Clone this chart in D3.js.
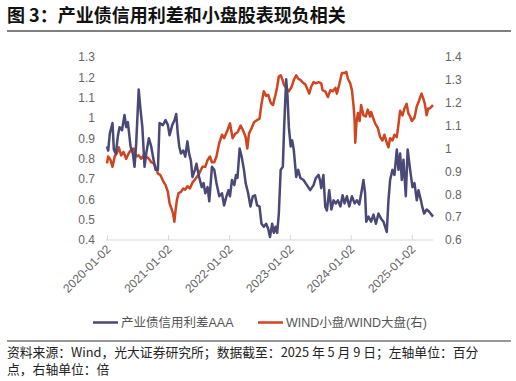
<!DOCTYPE html>
<html><head><meta charset="utf-8">
<script src="https://cdn.jsdelivr.net/npm/d3@7"></script>
<style>body{margin:0;background:#fff}svg{display:block}</style>
</head><body>
<script>
// ---- data ----
const title = "图 3：产业债信用利差和小盘股表现负相关";
const tickDates = ["2020-01-02","2021-01-02","2022-01-02","2023-01-02","2024-01-02","2025-01-02"];
const leftTicks = [0.4,0.5,0.6,0.7,0.8,0.9,1,1.1,1.2,1.3];
const rightTicks = [0.6,0.7,0.8,0.9,1,1.1,1.2,1.3,1.4];
const seriesNames = ["产业债信用利差AAA","WIND小盘/WIND大盘(右)"];
const noteLines = ["资料来源：Wind，光大证券研究所；数据截至：2025 年 5 月 9 日；左轴单位：百分","点，右轴单位：倍"];

const spreadDates = ["2020-01-02","2020-01-09","2020-01-19","2020-02-04","2020-02-12","2020-02-24","2020-03-07","2020-03-17","2020-04-01","2020-04-16","2020-04-26","2020-05-06","2020-05-22","2020-06-05","2020-06-15","2020-06-25","2020-07-10","2020-07-21","2020-08-01","2020-08-14","2020-08-24","2020-09-09","2020-09-23","2020-10-07","2020-10-19","2020-11-02","2020-11-12","2020-12-02","2020-12-18","2021-01-01","2021-01-11","2021-01-27","2021-02-10","2021-02-20","2021-03-01","2021-03-10","2021-03-20","2021-04-03","2021-04-15","2021-04-28","2021-05-08","2021-05-19","2021-05-28","2021-06-12","2021-06-21","2021-07-07","2021-07-23","2021-08-03","2021-08-13","2021-08-27","2021-09-06","2021-09-22","2021-10-06","2021-10-19","2021-11-05","2021-11-21","2021-12-04","2021-12-18","2021-12-30","2022-01-08","2022-01-20","2022-02-03","2022-02-13","2022-02-22","2022-03-07","2022-03-19","2022-04-02","2022-04-12","2022-04-27","2022-05-11","2022-05-25","2022-06-07","2022-06-20","2022-07-04","2022-07-16","2022-07-30","2022-08-13","2022-08-25","2022-09-05","2022-09-18","2022-09-28","2022-10-08","2022-10-18","2022-10-28","2022-11-08","2022-11-21","2022-11-29","2022-12-11","2022-12-19","2022-12-27","2023-01-07","2023-01-16","2023-01-26","2023-02-09","2023-02-21","2023-03-06","2023-03-25","2023-04-14","2023-05-04","2023-05-24","2023-06-07","2023-06-23","2023-07-03","2023-07-09","2023-07-22","2023-08-02","2023-08-12","2023-08-26","2023-09-08","2023-09-21","2023-10-05","2023-10-17","2023-11-01","2023-11-14","2023-11-26","2023-12-10","2023-12-24","2024-01-09","2024-01-25","2024-02-08","2024-02-22","2024-03-08","2024-03-18","2024-03-28","2024-04-04","2024-04-17","2024-05-03","2024-05-17","2024-06-01","2024-06-16","2024-07-02","2024-07-16","2024-08-05","2024-08-15","2024-08-25","2024-09-08","2024-09-20","2024-10-04","2024-10-14","2024-10-24","2024-11-03","2024-11-13","2024-11-27","2024-12-08","2024-12-23","2025-01-06","2025-01-18","2025-02-01","2025-02-11","2025-02-27","2025-03-05","2025-03-17","2025-04-01","2025-04-15","2025-05-09"];
const spreadValues = [0.86,0.84,0.925,0.975,0.845,0.825,0.91,0.955,0.94,1.015,0.955,0.98,0.86,0.825,0.76,0.875,1.14,1.04,0.955,0.76,0.825,0.90,0.86,0.795,0.745,0.745,0.975,0.965,0.99,0.965,0.915,0.965,0.99,1.02,0.925,0.86,0.825,0.84,0.81,0.885,0.825,0.79,0.71,0.745,0.775,0.71,0.66,0.68,0.63,0.66,0.59,0.76,0.745,0.68,0.615,0.63,0.57,0.615,0.645,0.615,0.695,0.67,0.72,0.705,0.85,0.81,0.745,0.68,0.63,0.565,0.615,0.62,0.57,0.565,0.48,0.465,0.48,0.455,0.415,0.48,0.435,0.465,0.435,0.53,0.745,0.76,0.96,1.19,1.105,0.955,0.86,0.89,0.84,0.71,0.745,0.705,0.695,0.67,0.645,0.67,0.705,0.72,0.69,0.655,0.72,0.565,0.545,0.645,0.55,0.595,0.58,0.595,0.565,0.62,0.58,0.615,0.565,0.615,0.58,0.595,0.575,0.645,0.695,0.63,0.49,0.515,0.49,0.525,0.48,0.53,0.505,0.49,0.44,0.595,0.695,0.745,0.72,0.845,0.745,0.825,0.695,0.795,0.615,0.845,0.745,0.66,0.68,0.595,0.645,0.59,0.565,0.53,0.55,0.54,0.515];

const ratioDates = ["2020-01-02","2020-01-09","2020-01-23","2020-02-04","2020-02-17","2020-03-01","2020-03-13","2020-03-27","2020-04-10","2020-04-26","2020-05-12","2020-05-26","2020-06-09","2020-06-25","2020-07-10","2020-07-25","2020-08-08","2020-08-24","2020-09-09","2020-09-23","2020-10-07","2020-10-19","2020-11-02","2020-11-16","2020-12-02","2020-12-18","2021-01-01","2021-01-11","2021-01-21","2021-02-01","2021-02-09","2021-02-16","2021-02-24","2021-03-06","2021-03-20","2021-04-03","2021-04-15","2021-04-28","2021-05-13","2021-05-28","2021-06-18","2021-07-07","2021-07-27","2021-08-13","2021-08-27","2021-09-10","2021-09-22","2021-10-06","2021-10-19","2021-11-05","2021-11-21","2021-12-04","2021-12-24","2022-01-08","2022-01-24","2022-02-09","2022-02-22","2022-03-13","2022-03-27","2022-04-12","2022-04-22","2022-05-02","2022-05-18","2022-06-01","2022-06-20","2022-07-04","2022-07-16","2022-07-30","2022-08-13","2022-08-25","2022-09-09","2022-09-23","2022-10-08","2022-10-18","2022-10-28","2022-11-08","2022-11-17","2022-11-27","2022-12-11","2022-12-27","2023-01-13","2023-01-26","2023-02-09","2023-02-21","2023-03-06","2023-03-19","2023-04-05","2023-04-20","2023-04-28","2023-05-10","2023-05-24","2023-06-07","2023-06-23","2023-07-09","2023-07-17","2023-08-02","2023-08-18","2023-09-02","2023-09-17","2023-10-02","2023-10-11","2023-10-25","2023-11-10","2023-11-26","2023-12-06","2023-12-16","2023-12-30","2024-01-09","2024-01-19","2024-01-25","2024-01-29","2024-02-05","2024-02-14","2024-02-24","2024-03-04","2024-03-18","2024-04-01","2024-04-13","2024-04-27","2024-05-03","2024-05-17","2024-05-27","2024-06-12","2024-06-26","2024-07-10","2024-07-22","2024-08-05","2024-08-15","2024-08-25","2024-09-08","2024-09-20","2024-10-04","2024-10-14","2024-10-24","2024-11-07","2024-11-19","2024-12-02","2024-12-12","2024-12-23","2025-01-02","2025-01-18","2025-02-01","2025-02-15","2025-03-01","2025-03-11","2025-03-21","2025-04-01","2025-04-10","2025-04-20","2025-05-09"];
const ratioValues = [0.935,0.965,0.95,0.92,0.965,0.98,1.005,0.97,0.985,0.955,0.98,0.995,1.0,0.965,0.97,0.955,0.97,0.965,0.955,0.94,0.935,0.92,0.89,0.885,0.86,0.84,0.81,0.76,0.74,0.715,0.68,0.73,0.775,0.805,0.81,0.825,0.82,0.835,0.825,0.85,0.87,0.89,0.92,0.92,0.95,0.965,0.94,0.94,0.965,1.025,1.06,1.045,1.08,1.11,1.045,1.065,1.07,1.10,1.08,1.05,1.0,1.065,1.09,1.115,1.125,1.13,1.195,1.25,1.23,1.235,1.2,1.19,1.235,1.27,1.315,1.32,1.305,1.28,1.265,1.25,1.27,1.30,1.32,1.305,1.30,1.29,1.28,1.255,1.24,1.27,1.29,1.285,1.29,1.285,1.255,1.25,1.225,1.255,1.25,1.265,1.24,1.28,1.33,1.33,1.335,1.305,1.285,1.255,1.185,1.125,1.025,1.11,1.155,1.12,1.19,1.145,1.14,1.17,1.14,1.16,1.13,1.11,1.09,1.05,1.035,1.06,1.025,1.005,1.045,1.035,1.06,1.05,1.105,1.165,1.145,1.175,1.195,1.155,1.14,1.12,1.135,1.185,1.21,1.24,1.22,1.195,1.145,1.175,1.175,1.19];

// ---- chart ----
const W = 516, H = 381;
const parse = d3.timeParse("%Y-%m-%d");
const svg = d3.select("body").append("svg").attr("width", W).attr("height", H);
const font = "'Liberation Sans','Noto Sans CJK SC',Arial,sans-serif";
const cjk = "'Noto Sans CJK SC','Liberation Sans',sans-serif";

const x = d3.scaleTime().domain([parse("2020-01-02"), parse("2025-05-09")]).range([107, 433]);
const yL = d3.scaleLinear().domain([0.4, 1.3]).range([240, 57]);
const yR = d3.scaleLinear().domain([0.6, 1.4]).range([240, 57]);

// title
svg.append("text").attr("x", 7).attr("y", 22).text(title)
  .attr("font-family", cjk).attr("font-weight", "bold").attr("font-size", 18).attr("fill", "#111");
svg.append("line").attr("x1", 7).attr("x2", 511).attr("y1", 31).attr("y2", 31)
  .attr("stroke", "#555").attr("stroke-width", 1.5);

// x axis
const xAxis = d3.axisBottom(x).tickValues(tickDates.map(parse)).tickSize(-5).tickFormat(d3.timeFormat("%Y-%m-%d"));
const gx = svg.append("g").attr("transform", "translate(0,240)").call(xAxis);
gx.select(".domain").attr("stroke", "#d9d9d9").attr("d", "M106,0H433");
gx.selectAll(".tick line").attr("stroke", "#d9d9d9");
gx.selectAll(".tick text").attr("font-family", font).attr("font-size", 12).attr("fill", "#666")
  .attr("text-anchor", "end").attr("dy", null).attr("y", 0)
  .attr("transform", "translate(4,10) rotate(-45)");

// left axis
const gl = svg.append("g").attr("transform", "translate(95,0)")
  .call(d3.axisLeft(yL).tickValues(leftTicks).tickSize(0).tickPadding(0).tickFormat(d3.format("~g")));
gl.select(".domain").remove();
gl.selectAll("text").attr("font-family", font).attr("font-size", 12).attr("fill", "#666");

// right axis
const gr = svg.append("g").attr("transform", "translate(445,0)")
  .call(d3.axisRight(yR).tickValues(rightTicks).tickSize(0).tickPadding(0).tickFormat(d3.format("~g")));
gr.select(".domain").remove();
gr.selectAll("text").attr("font-family", font).attr("font-size", 12).attr("fill", "#666");

const blue = "#4a4877", red = "#cf4520";
const spread = spreadDates.map((d, i) => ({d: parse(d), v: spreadValues[i]}));
const ratio = ratioDates.map((d, i) => ({d: parse(d), v: ratioValues[i]}));

svg.append("path").datum(ratio).attr("fill", "none").attr("stroke", red).attr("stroke-width", 2.5)
  .attr("stroke-linejoin", "round")
  .attr("d", d3.line().x(p => x(p.d)).y(p => yR(p.v)));
svg.append("path").datum(spread).attr("fill", "none").attr("stroke", blue).attr("stroke-width", 2.5)
  .attr("stroke-linejoin", "round")
  .attr("d", d3.line().x(p => x(p.d)).y(p => yL(p.v)));

// legend
const legend = [{name: seriesNames[0], color: blue, x: 93}, {name: seriesNames[1], color: red, x: 258}];
legend.forEach(l => {
  svg.append("line").attr("x1", l.x).attr("x2", l.x + 25).attr("y1", 322.5).attr("y2", 322.5)
    .attr("stroke", l.color).attr("stroke-width", 2.5);
  svg.append("text").attr("x", l.x + 28).attr("y", 327).text(l.name)
    .attr("font-family", font).attr("font-size", 12.5).attr("fill", "#555");
});

// footnote
svg.append("line").attr("x1", 7).attr("x2", 511).attr("y1", 341).attr("y2", 341)
  .attr("stroke", "#333").attr("stroke-width", 1);
noteLines.forEach((t, i) => {
  svg.append("text").attr("x", 7).attr("y", 356.5 + i * 17.5).text(t)
    .attr("font-family", cjk).attr("font-size", 12.8).attr("fill", "#222");
});
</script>
</body></html>
